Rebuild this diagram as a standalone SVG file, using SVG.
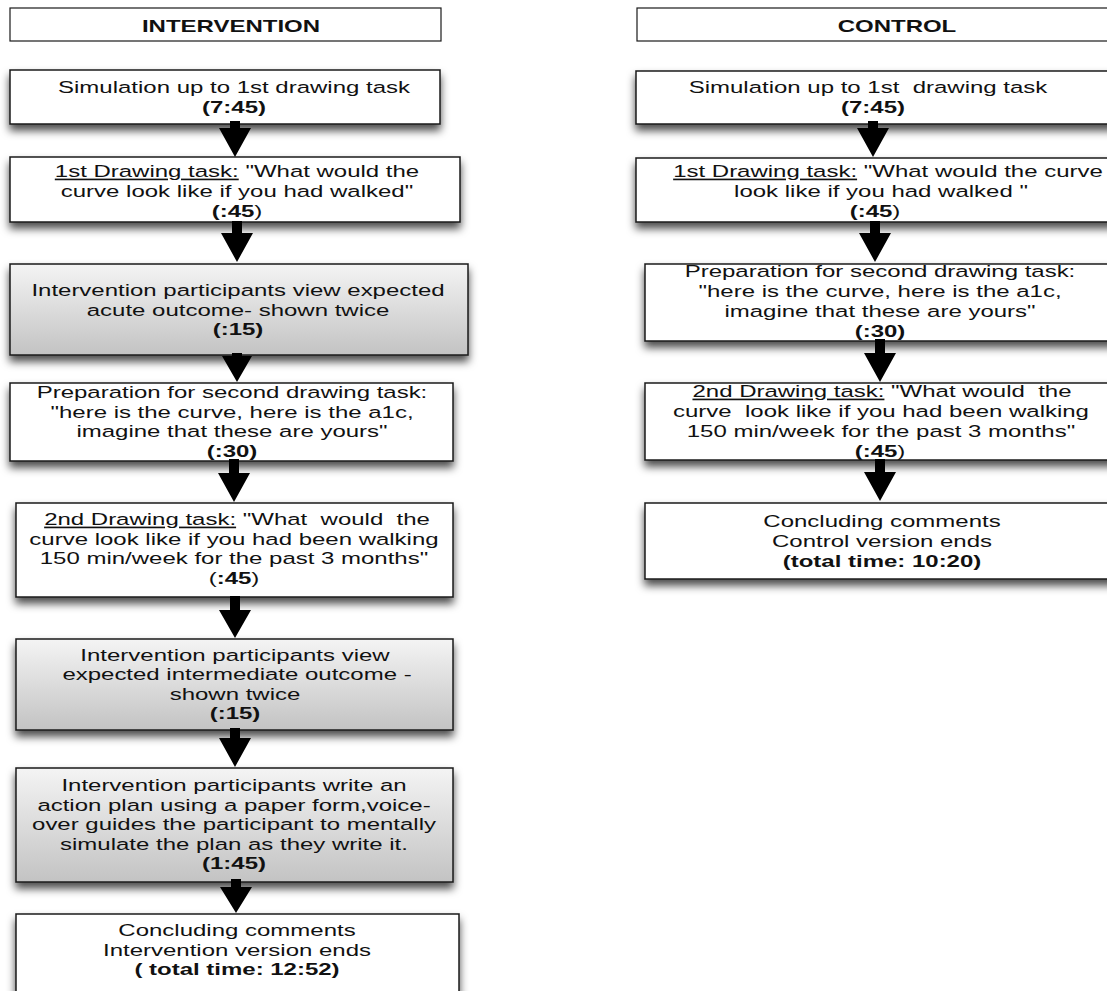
<svg xmlns="http://www.w3.org/2000/svg" width="1107" height="991" viewBox="0 0 1107 991">
<style>
.box{fill:#fff;stroke:#1a1a1a;stroke-width:1.5}
.hdr{fill:#fff;stroke:#1a1a1a;stroke-width:1.2}
.gray{fill:url(#gg)}
.sh{filter:url(#ds)}
.t{font-family:"Liberation Sans",Arial,Helvetica,sans-serif;font-size:16.5px;fill:#111;text-anchor:middle;white-space:pre}
.b{font-weight:bold}
.u{text-decoration:underline}
.arr{fill:#000}
</style>
<defs>
<linearGradient id="gg" x1="0" y1="0" x2="0" y2="1">
<stop offset="0" stop-color="#f4f4f4"/>
<stop offset="1" stop-color="#c3c3c3"/>
</linearGradient>
<filter id="ds" x="-10%" y="-20%" width="120%" height="160%">
<feDropShadow dx="0" dy="6" stdDeviation="4" flood-color="#000" flood-opacity="0.7"/>
</filter>
</defs>

<g id="intervention-header">
<rect class="hdr" x="10" y="8" width="431" height="33"/>
<text class="t b" transform="translate(231,32) scale(1.4545,1)">INTERVENTION</text>
</g>
<g id="control-header">
<rect class="hdr" x="637" y="8" width="480" height="33"/>
<text class="t b" transform="translate(897,32) scale(1.4545,1)">CONTROL</text>
</g>

<g id="i1">
<rect class="box sh" x="10" y="70" width="430" height="54"/>
<text class="t" transform="translate(234,93) scale(1.4545,1)">Simulation up to 1st drawing task</text>
<text class="t b" transform="translate(234,113) scale(1.4545,1)">(7:45)</text>
</g>
<g id="i2">
<rect class="box sh" x="10" y="157" width="450" height="65"/>
<text class="t" transform="translate(237,177) scale(1.4545,1)"><tspan class="u">1st Drawing task:</tspan> "What would the</text>
<text class="t" transform="translate(237,197) scale(1.4545,1)">curve look like if you had walked"</text>
<text class="t" transform="translate(237,217) scale(1.4545,1)"><tspan class="b">(:45</tspan>)</text>
</g>
<g id="i3">
<rect class="box gray sh" x="10" y="264" width="458" height="91"/>
<text class="t" transform="translate(238,296) scale(1.4545,1)">Intervention participants view expected</text>
<text class="t" transform="translate(238,315.5) scale(1.4545,1)">acute outcome- shown twice</text>
<text class="t b" transform="translate(238,335) scale(1.4545,1)">(:15)</text>
</g>
<g id="i4">
<rect class="box sh" x="10" y="383" width="443" height="78"/>
<text class="t" transform="translate(232,398) scale(1.4545,1)">Preparation for second drawing task:</text>
<text class="t" transform="translate(232,417.5) scale(1.4545,1)">"here is the curve, here is the a1c,</text>
<text class="t" transform="translate(232,437) scale(1.4545,1)">imagine that these are yours"</text>
<text class="t b" transform="translate(232,456.5) scale(1.4545,1)">(:30)</text>
</g>
<g id="i5">
<rect class="box sh" x="16" y="503" width="437" height="94"/>
<text class="t" transform="translate(237,525) scale(1.4545,1)"><tspan class="u">2nd Drawing task:</tspan> "What  would  the</text>
<text class="t" transform="translate(234,545) scale(1.4545,1)">curve look like if you had been walking</text>
<text class="t" transform="translate(234,564) scale(1.4545,1)">150 min/week for the past 3 months"</text>
<text class="t" transform="translate(234,584) scale(1.4545,1)">(<tspan class="b">:45</tspan>)</text>
</g>
<g id="i6">
<rect class="box gray sh" x="16" y="639" width="437" height="91"/>
<text class="t" transform="translate(235,660.5) scale(1.4545,1)">Intervention participants view</text>
<text class="t" transform="translate(237,680) scale(1.4545,1)">expected intermediate outcome -</text>
<text class="t" transform="translate(235,699.5) scale(1.4545,1)">shown twice</text>
<text class="t b" transform="translate(235,719) scale(1.4545,1)">(:15)</text>
</g>
<g id="i7">
<rect class="box gray sh" x="16" y="768" width="437" height="114"/>
<text class="t" transform="translate(234,790.5) scale(1.4545,1)">Intervention participants write an</text>
<text class="t" transform="translate(234,810.5) scale(1.4545,1)">action plan using a paper form,voice-</text>
<text class="t" transform="translate(234,830) scale(1.4545,1)">over guides the participant to mentally</text>
<text class="t" transform="translate(234,849.5) scale(1.4545,1)">simulate the plan as they write it.</text>
<text class="t b" transform="translate(234,869) scale(1.4545,1)">(1:45)</text>
</g>
<g id="i8">
<rect class="box sh" x="16" y="914" width="443" height="95"/>
<text class="t" transform="translate(237,936) scale(1.4545,1)">Concluding comments</text>
<text class="t" transform="translate(237,955.5) scale(1.4545,1)">Intervention version ends</text>
<text class="t b" transform="translate(237,975) scale(1.4545,1)">( total time: 12:52)</text>
</g>

<g id="c1">
<rect class="box sh" x="636" y="71" width="480" height="53"/>
<text class="t" transform="translate(868,93) scale(1.4545,1)">Simulation up to 1st  drawing task</text>
<text class="t b" transform="translate(873,113) scale(1.4545,1)">(7:45)</text>
</g>
<g id="c2">
<rect class="box sh" x="636" y="158" width="480" height="64"/>
<text class="t" transform="translate(888,177) scale(1.4545,1)"><tspan class="u">1st Drawing task:</tspan> "What would the curve</text>
<text class="t" transform="translate(881,197) scale(1.4545,1)">look like if you had walked "</text>
<text class="t" transform="translate(875,216.5) scale(1.4545,1)"><tspan class="b">(:45</tspan>)</text>
</g>
<g id="c3">
<rect class="box sh" x="645" y="264" width="480" height="77"/>
<text class="t" transform="translate(880,277) scale(1.4545,1)">Preparation for second drawing task:</text>
<text class="t" transform="translate(880,297) scale(1.4545,1)">"here is the curve, here is the a1c,</text>
<text class="t" transform="translate(880,316.5) scale(1.4545,1)">imagine that these are yours"</text>
<text class="t b" transform="translate(880,336.5) scale(1.4545,1)">(:30)</text>
</g>
<g id="c4">
<rect class="box sh" x="645" y="383" width="480" height="77"/>
<text class="t" transform="translate(882,397) scale(1.4545,1)"><tspan class="u">2nd Drawing task:</tspan> "What would  the</text>
<text class="t" transform="translate(881,417) scale(1.4545,1)">curve  look like if you had been walking</text>
<text class="t" transform="translate(881,436.5) scale(1.4545,1)">150 min/week for the past 3 months"</text>
<text class="t" transform="translate(880,456.5) scale(1.4545,1)"><tspan class="b">(:45</tspan>)</text>
</g>
<g id="c5">
<rect class="box sh" x="645" y="503" width="480" height="76"/>
<text class="t" transform="translate(882,527) scale(1.4545,1)">Concluding comments</text>
<text class="t" transform="translate(882,546.5) scale(1.4545,1)">Control version ends</text>
<text class="t b" transform="translate(882,566.5) scale(1.4545,1)">(total time: 10:20)</text>
</g>

<g id="connectors">
<path class="arr" d="M230,121 H240 V128 H251 L235,157 L219,128 H230 Z"/>
<path class="arr" d="M232,221 H242 V233 H253 L237,262 L221,233 H232 Z"/>
<path class="arr" d="M232,353 H242 V356 H252 L237,382 L222,356 H232 Z"/>
<path class="arr" d="M229,459 H239 V473 H250 L234,502 L218,473 H229 Z"/>
<path class="arr" d="M230,596 H240 V610 H251 L235,638 L219,610 H230 Z"/>
<path class="arr" d="M230,728 H240 V738 H251 L235,767 L219,738 H230 Z"/>
<path class="arr" d="M231,879 H241 V887 H252 L236,913 L220,887 H231 Z"/>
<path class="arr" d="M868,121 H878 V128 H889 L873,157 L857,128 H868 Z"/>
<path class="arr" d="M870,221 H880 V233 H891 L875,262 L859,233 H870 Z"/>
<path class="arr" d="M875,339 H885 V353 H896 L880,382 L864,353 H875 Z"/>
<path class="arr" d="M875,459 H885 V472 H896 L880,501 L864,472 H875 Z"/>
</g>
</svg>
